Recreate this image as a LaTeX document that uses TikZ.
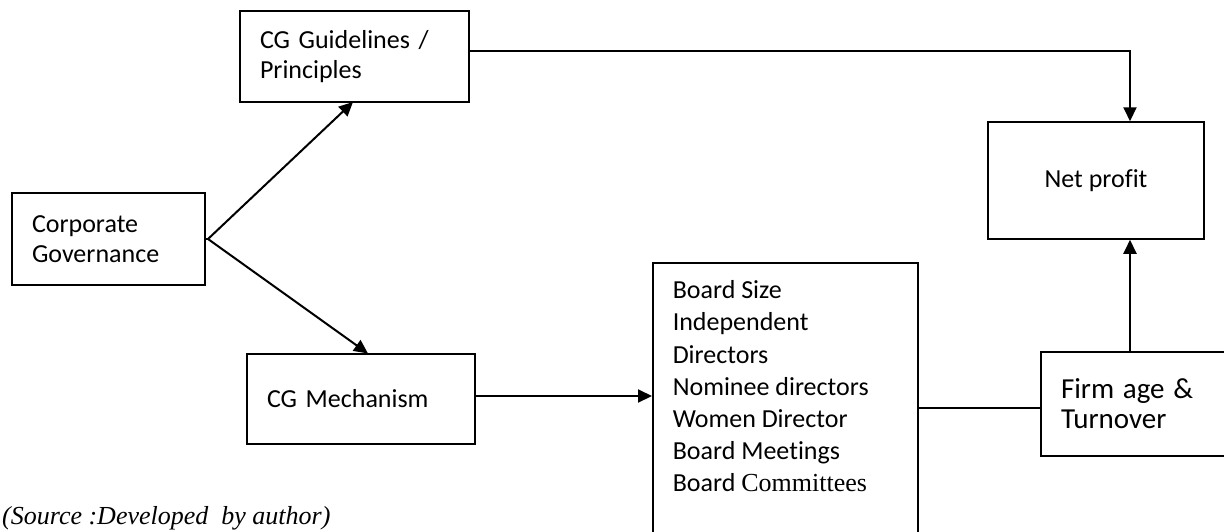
\documentclass[tikz,border=0pt]{standalone}
\usepackage{fontspec}
\setmainfont[Ligatures={NoCommon}]{Carlito}
\newfontfamily\timesfont{Liberation Serif}
\usetikzlibrary{arrows.meta}
\begin{document}
\begin{tikzpicture}[x=1pt,y=-1pt,
  box/.style={draw, line width=1.5pt, rectangle, inner ysep=0pt, inner xsep=20pt, align=left,
     font=\fontsize{26}{30}\selectfont},
  conn/.style={line width=2pt},
  arr/.style={conn, -{Triangle[length=14pt,width=13pt]}}]
\useasboundingbox (0,0) rectangle (1224,531);
\clip (0,0) rectangle (1224,531);
% boxes
\node[box, minimum width=229pt, minimum height=91pt, text width=189pt] (guide) at (354.5,56.5)
  {\fontsize{26}{30}\selectfont CG Guidelines /\\ Principles};
\node[box, minimum width=193pt, minimum height=92pt, text width=153pt] (corp) at (108.5,239)
  {\fontsize{26}{34}\selectfont Corporate\\ Governance};
\node[box, minimum width=228pt, minimum height=90pt, text width=188pt] (mech) at (361,399)
  {CG Mechanism};
\node[box, minimum width=216pt, minimum height=117pt, align=center, inner xsep=0pt] (netp) at (1096,180.5)
  {Net profit};
\node[box, minimum width=200pt, minimum height=104pt, text width=160pt] (firm) at (1141,404)
  {\fontsize{29}{41}\selectfont Firm age \&\\ Turnover};
\node[box, anchor=north west, inner xsep=20pt] (board) at (652,262)
  {\parbox[c][300pt][t]{225pt}{\fontsize{26}{32.2}\selectfont\rule{0pt}{36pt}Board Size\\
   Independent\\ Directors\\ Nominee directors\\ Women Director\\ Board Meetings\\
   Board {\timesfont Committees}}};
% source text
\node[anchor=base west, inner sep=0pt, font=\timesfont\itshape\fontsize{26}{30}\selectfont] (src) at (2,524)
  {(Source :Developed\ \ by author)};
% connectors
\coordinate (apex) at (208,239);
\draw[conn] (corp.east) -- (apex);
\draw[arr] (apex) -- (353,102) coordinate (gtip);
\draw[arr] (apex) -- (368,353.5) coordinate (mtip);
\draw[arr] (guide.east |- 0,50.7) -- (1130,50.7) -- (netp.north -| 1130,0);
\draw[arr] (mech.east |- 0,396) -- (board.west |- 0,396);
\draw[conn] (board.east |- 0,408) -- (firm.west |- 0,408);
\draw[arr] (firm.north -| 1130,0) -- (netp.south -| 1130,0);
\end{tikzpicture}
\end{document}
